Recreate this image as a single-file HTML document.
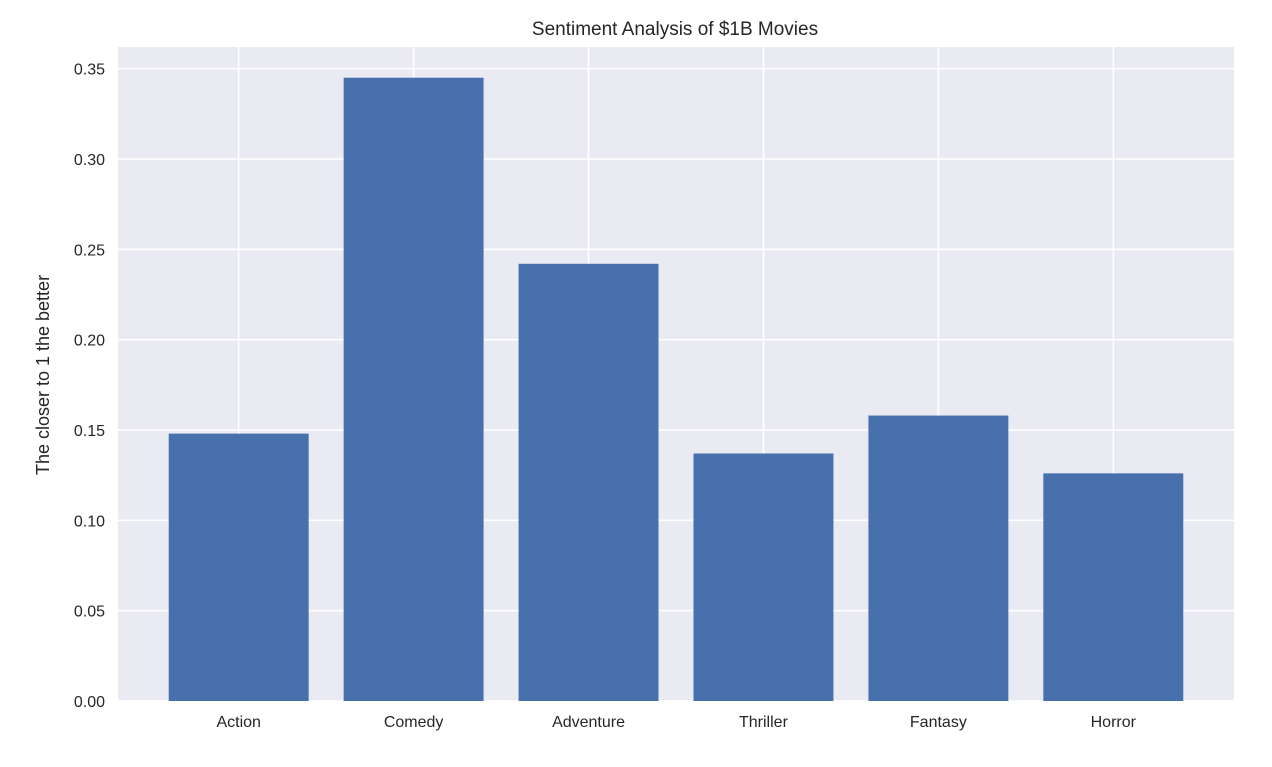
<!DOCTYPE html>
<html><head><meta charset="utf-8"><style>
body{margin:0;background:#fff;}
svg text{font-family:"Liberation Sans",sans-serif;fill:#262626;}
</style></head><body>
<svg id="chart" width="1272" height="762">
<rect x="118" y="47" width="1116" height="654" fill="#eaeaf2"/>
<g id="grid"></g><g id="bars"></g><g id="ticks"></g>
<text x="675" y="35" font-size="19" text-anchor="middle">Sentiment Analysis of $1B Movies</text>
<text transform="translate(49,375) rotate(-90)" font-size="18" text-anchor="middle">The closer to 1 the better</text>
</svg>
<script>
const categories=["Action","Comedy","Adventure","Thriller","Fantasy","Horror"];
const values=[0.148,0.345,0.242,0.137,0.158,0.126];
const yTicks=[0,0.05,0.10,0.15,0.20,0.25,0.30,0.35];
const ns="http://www.w3.org/2000/svg";
const L=118,R=1234,T=47,B=701;
const yMax=0.362;
const y=v=>B-v/yMax*(B-T);
const xmin=-0.69,xmax=categories.length-1+0.69;
const x=i=>L+(i-xmin)/(xmax-xmin)*(R-L);
const bw=0.8*(x(1)-x(0));
function mk(t,a,p){const e=document.createElementNS(ns,t);for(const k in a)e.setAttribute(k,a[k]);p.appendChild(e);return e;}
const grid=document.getElementById('grid'),bars=document.getElementById('bars'),ticks=document.getElementById('ticks');
yTicks.forEach(v=>{
 const l=mk('line',{x1:L,x2:R,y1:y(v),y2:y(v),stroke:'#fff','stroke-width':1.6},grid);
 
 
 const t=mk('text',{x:L-13,y:y(v)+6,'font-size':16,'text-anchor':'end'},ticks);
 t.textContent=v.toFixed(2);
 
 
});
categories.forEach((c,i)=>{
 const g=mk('line',{x1:x(i),x2:x(i),y1:T,y2:B,stroke:'#fff','stroke-width':1.6},grid);
 
 
 const r=mk('rect',{x:x(i)-bw/2,y:y(values[i]),width:bw,height:B-y(values[i]),fill:'#4870ad'},bars);
 
 
 const t=mk('text',{x:x(i),y:727,'font-size':16,'text-anchor':'middle'},ticks);
 t.textContent=c;
 
 
});
</script>
</body></html>
